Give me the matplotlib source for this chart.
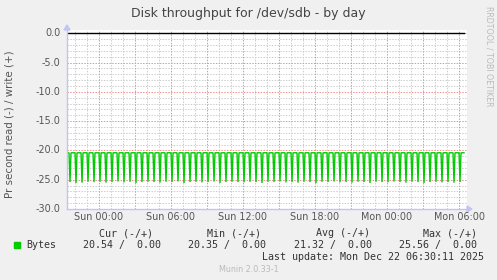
import numpy as np
import matplotlib
matplotlib.use("Agg")
import matplotlib.pyplot as plt

# ---------------- data ----------------
title = "Disk throughput for /dev/sdb - by day"
ylabel = "Pr second read (-) / write (+)"
xtick_hours = [0, 6, 12, 18, 24, 30]
xtick_labels = ["Sun 00:00", "Sun 06:00", "Sun 12:00", "Sun 18:00", "Mon 00:00", "Mon 06:00"]
ytick_values = [0, -5, -10, -15, -20, -25, -30]
ytick_labels = ["0.0", "-5.0", "-10.0", "-15.0", "-20.0", "-25.0", "-30.0"]

# read (plotted negative): base level between spikes and spike depths (one per half hour)
base_level = 20.40
spike_depths = [25.40, 25.56, 25.50, 25.35, 25.40, 25.35, 25.50, 25.40, 25.30, 25.45,
                25.35, 25.56, 25.40, 25.35, 25.40, 25.50, 25.35, 25.40, 25.30, 25.56,
                25.40, 25.35, 25.45, 25.40, 25.30, 25.56, 25.40, 25.35, 25.40, 25.45,
                25.35, 25.40, 25.56, 25.35, 25.40, 25.30, 25.45, 25.40, 25.50, 25.35,
                25.40, 25.56, 25.35, 25.40, 25.30, 25.45, 25.40, 25.50, 25.35, 25.40,
                25.56, 25.35, 25.40, 25.45, 25.30, 25.40, 25.50, 25.35, 25.40, 25.56,
                25.40, 25.35, 25.45, 25.40, 25.50, 25.40]
start_hour = -2.583      # first 5-minute sample, hours relative to Sun 00:00
first_spike_offset = 2   # samples before the first spike
samples_per_spike = 6    # 30 minutes at 5-minute resolution
trailing_samples = 4

legend_name = "Bytes"
legend_headers = ["Cur (-/+)", "Min (-/+)", "Avg (-/+)", "Max (-/+)"]
legend_values = ["20.54 /  0.00", "20.35 /  0.00", "21.32 /  0.00", "25.56 /  0.00"]
last_update = "Last update: Mon Dec 22 06:30:11 2025"
footer = "Munin 2.0.33-1"
watermark = "RRDTOOL / TOBI OETIKER"

# ---------------- build series ----------------
read = [base_level] * first_spike_offset
for d in spike_depths:
    read.append(d)
    read.extend([base_level] * (samples_per_spike - 1))
read = read[:-(samples_per_spike - 1)] + [base_level] * trailing_samples
read = -np.array(read)
t = start_hour + np.arange(len(read)) / 12.0
write = np.zeros_like(read)

# ---------------- figure ----------------
W, H = 497, 280
fig = plt.figure(figsize=(W / 100, H / 100), dpi=100)
fig.patch.set_facecolor("#F0F0F0")

def fx(x):
    return x / W

def fy(y):
    return 1 - y / H

left, right, top, bottom = 67, 467, 30, 209
ax = fig.add_axes([fx(left), fy(bottom), (right - left) / W, (bottom - top) / H])
ax.set_facecolor("white")
xmin = (left - 99) / 12.0
xmax = (right - 99) / 12.0
ax.set_xlim(xmin, xmax)
ymin = -30
ymax = (33.3 - top) / 5.85
ax.set_ylim(ymin, ymax)
for s in ax.spines.values():
    s.set_visible(False)

# grid
minor_style = dict(linewidth=0.72, linestyle=(0, (1.4, 1.4)), color="#CDCDCD")
major_style = dict(linewidth=0.72, linestyle=(0, (1.4, 1.4)), color="#EC9090")
for h in range(-2, 31):
    if h % 3 == 0:
        ax.axvline(h, zorder=1.5, **major_style)
    else:
        ax.axvline(h, zorder=1, **minor_style)
for v in range(-29, 1):
    if v % 5 == 0:
        ax.axhline(v, zorder=1.5, **major_style)
    else:
        ax.axhline(v, zorder=1, **minor_style)

# data
ax.plot(t, read, color="#00CC00", linewidth=1.0, zorder=3, solid_joinstyle="miter")
ax.plot(t, write, color="#000000", linewidth=1.0, zorder=3)

# axes lines with arrows
axis_col = "#C4C4F4"
ax.plot([xmin, xmin], [ymin, ymax], color=axis_col, linewidth=1.0, zorder=4, clip_on=False)
ax.plot([xmin, xmax + 0.1], [ymin, ymin], color=axis_col, linewidth=1.0, zorder=4, clip_on=False)
fig.patches.append(plt.Polygon([[fx(64), fy(30)], [fx(70), fy(30)], [fx(67), fy(25)]],
                               closed=True, transform=fig.transFigure, color=axis_col))
fig.patches.append(plt.Polygon([[fx(467), fy(206)], [fx(467), fy(212)], [fx(472), fy(209)]],
                               closed=True, transform=fig.transFigure, color=axis_col))

ax.set_xticks([])
ax.set_yticks([])

tick_col = "#555555"
tick_fs = 6.9
for h, lab in zip(xtick_hours, xtick_labels):
    x = 99 + 12 * h
    fig.text(fx(x), fy(216.7), lab, ha="center", va="center", fontsize=tick_fs,
             color=tick_col, family="DejaVu Sans")
for v, lab in zip(ytick_values, ytick_labels):
    y = 33.3 - 5.85 * v
    fig.text(fx(60.5), fy(y), lab, ha="right", va="center", fontsize=tick_fs,
             color=tick_col, family="DejaVu Sans")

fig.text(fx(10), fy(124), ylabel, rotation=90, ha="center", va="center",
         fontsize=7.4, color=tick_col, family="DejaVu Sans")
fig.text(fx(248), fy(13), title, ha="center", va="center", fontsize=9,
         color="#444444", family="DejaVu Sans")
fig.text(fx(488.5), fy(56), watermark, rotation=-90, ha="center", va="center",
         fontsize=5.7, color="#BBBBBB", family="DejaVu Sans")

# legend
mono = "DejaVu Sans Mono"
leg_fs = 7.2
fig.patches.append(plt.Rectangle((fx(14), fy(248)), 6 / W, 6 / H,
                                 transform=fig.transFigure, color="#00CC00"))
fig.text(fx(26.7), fy(245), legend_name, ha="left", va="center", fontsize=leg_fs,
         color="#333333", family=mono)
header_x = [98.7, 207.3, 315.7, 423.3]
value_x = [83.3, 188.3, 293.7, 398.7]
for x, s in zip(header_x, legend_headers):
    fig.text(fx(x), fy(233.3), s, ha="left", va="center", fontsize=leg_fs,
             color="#333333", family=mono)
for x, s in zip(value_x, legend_values):
    fig.text(fx(x), fy(245), s, ha="left", va="center", fontsize=leg_fs,
             color="#333333", family=mono)
fig.text(fx(261.7), fy(257.3), last_update, ha="left", va="center", fontsize=leg_fs,
         color="#333333", family=mono)
fig.text(fx(219), fy(269.5), footer, ha="left", va="center", fontsize=5.8,
         color="#BBBBBB", family="DejaVu Sans")

fig.savefig("out.png", dpi=100, facecolor=fig.get_facecolor())
